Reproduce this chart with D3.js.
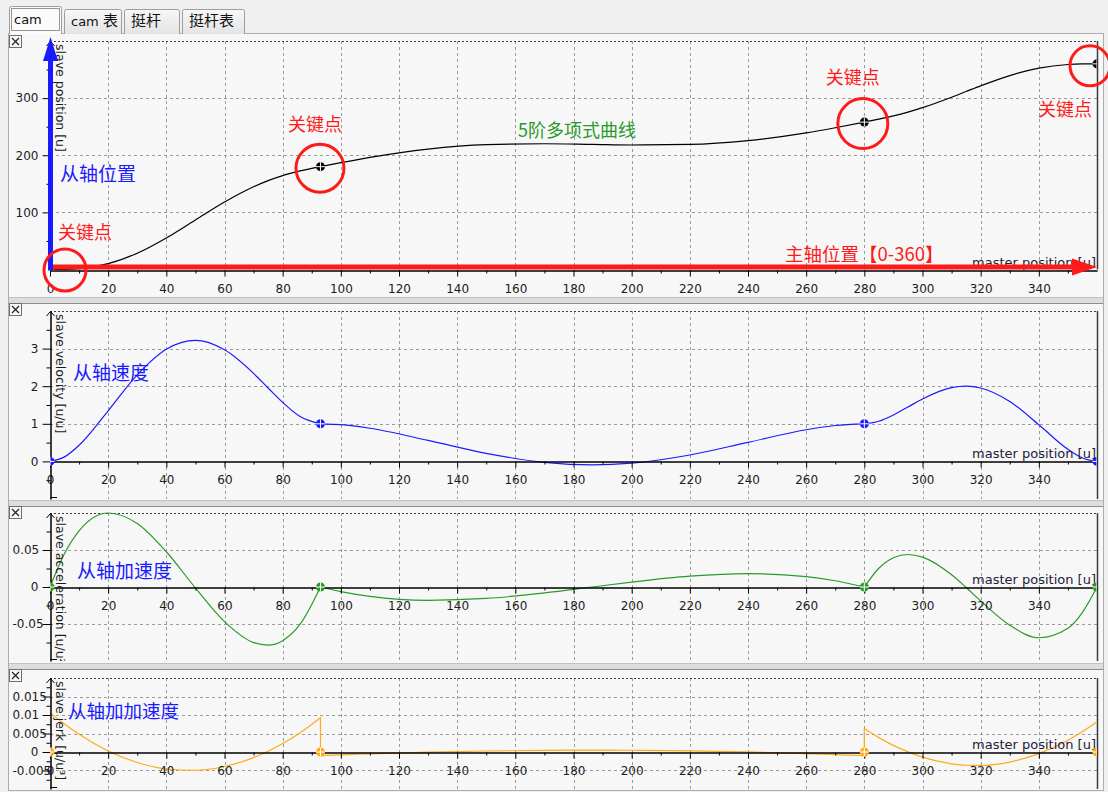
<!DOCTYPE html>
<html>
<head>
<meta charset="utf-8">
<script src="https://cdn.jsdelivr.net/npm/d3@7"></script>
<style>
  body { margin: 0; background: #f0f0f0; }
  svg { display: block; }
</style>
</head>
<body>
<svg id="chart" width="1108" height="792"></svg>
<script>
// ---- cam profile: key points of the master/slave motion ----
const keyX    = [0, 93, 280, 360];
const keyPos  = [0, 180, 258, 360];
const keyVel  = [0, 1, 1, 0];
const keyAcc  = [0, 0, 0, 0];
const keyJerk = [0, 0, 0, 0];

// segment 1: 0 .. 93
const seg1X   = [0, 5, 10, 20, 30, 40, 50, 60, 70, 75, 80, 86, 93];
const pos1    = [0, 0.21, 1.51, 10.19, 28.55, 55.29, 86.70, 118.03, 144.78, 155.53, 164.32, 172.53, 180];
const vel1    = [0, 0.120, 0.429, 1.346, 2.302, 2.983, 3.217, 2.967, 2.340, 1.951, 1.570, 1.193, 1];
const acc1    = [0, 0.0453, 0.0760, 0.1000, 0.0859, 0.0476, -0.0013, -0.0468, -0.0751, -0.0785, -0.0725, -0.0503, 0];
const jerk1   = [0.01065, 0.00754, 0.00477, 0.00027, -0.00285, -0.00459, -0.00495, -0.00392, -0.00151, 0.00021, 0.00228, 0.00521, 0.00926];

// segment 2: 93 .. 280
const seg2X   = [93, 100, 110, 130, 150, 170, 186.5, 200, 220, 240, 260, 270, 280];
const pos2    = [180, 186.95, 196.29, 210.86, 218.52, 220.16, 219.00, 217.95, 218.90, 225.54, 239.13, 248.16, 258];
const vel2    = [1, 0.977, 0.881, 0.560, 0.215, -0.026, -0.093, -0.048, 0.170, 0.506, 0.841, 0.955, 1];
const acc2    = [0, -0.00624, -0.01265, -0.01794, -0.01547, -0.00799, 0, 0.00661, 0.01460, 0.01800, 0.01404, 0.00845, 0];
const jerk2   = [-0.00100, -0.00078, -0.00050, -0.00005, 0.00027, 0.00045, 0.00050, 0.00047, 0.00031, 0.00001, -0.00043, -0.00070, -0.00100];

// segment 3: 280 .. 360
const seg3X   = [280, 285, 290, 295, 300, 310, 315, 320, 330, 340, 350, 355, 360];
const pos3    = [258, 263.12, 268.85, 275.55, 283.32, 301.64, 311.58, 321.50, 339.51, 352.49, 358.86, 359.84, 360];
const vel3    = [1, 1.069, 1.235, 1.447, 1.661, 1.961, 2.001, 1.953, 1.594, 0.974, 0.321, 0.091, 0];
const acc3    = [0, 0.0254, 0.0395, 0.0439, 0.0404, 0.0165, -0.0006, -0.0188, -0.0516, -0.0686, -0.0559, -0.0342, 0];
const jerk3   = [0.00633, 0.00389, 0.00179, 0.00004, -0.00138, -0.00319, -0.00358, -0.00363, -0.00272, -0.00044, 0.00320, 0.00553, 0.00820];

// ---- axis ticks ----
const xTickLabels = [0, 20, 40, 60, 80, 100, 120, 140, 160, 180, 200, 220, 240, 260, 280, 300, 320, 340];
const xMinorTicks = [10, 30, 50, 70, 90, 110, 130, 150, 170, 190, 210, 230, 250, 270, 290, 310, 330, 350];
const posTicks  = [100, 200, 300];
const posMinor  = [50, 150, 250, 350];
const velTicks  = [0, 1, 2, 3];
const velMinor  = [-0.5, 0.5, 1.5, 2.5, 3.5];
const accTicks  = [-0.05, 0, 0.05];
const accMinor  = [-0.075, -0.025, 0.025, 0.075];
const jerkTicks = [-0.005, 0, 0.005, 0.01, 0.015];
const jerkMinor = [-0.0075, -0.0025, 0.0025, 0.0075, 0.0125, 0.0175];

const tabLabels = ['cam', 'cam 表', '挺杆', '挺杆表'];

// ---- drawing ----
const W = 1108, H = 792;
const LATIN = '"DejaVu Sans", Verdana, sans-serif';
const MIXED = '"DejaVu Sans", "Noto Sans CJK SC", sans-serif';
const CJK = '"Noto Sans CJK SC", sans-serif';
const svg = d3.select('#chart');
const defs = svg.append('defs');

svg.append('rect').attr('width', W).attr('height', H).attr('fill', '#f0f0f0');

// tab strip
const tabGeom = [
  { x0: 9, x1: 62, top: 6 },
  { x0: 64, x1: 122, top: 9 },
  { x0: 124, x1: 180, top: 9 },
  { x0: 182, x1: 245, top: 9 }
];
const grad = defs.append('linearGradient').attr('id', 'tabGrad').attr('x1', 0).attr('x2', 0).attr('y1', 0).attr('y2', 1);
grad.append('stop').attr('offset', '0%').attr('stop-color', '#f7f7f7');
grad.append('stop').attr('offset', '100%').attr('stop-color', '#e4e4e4');

svg.append('rect').attr('x', 8.5).attr('y', 33.5).attr('width', 1095).attr('height', 757)
  .attr('fill', '#f7f7f7').attr('stroke', '#adadad');

tabLabels.forEach((lab, i) => {
  const t = tabGeom[i];
  const sel = i === 0;
  svg.append('path')
    .attr('d', `M${t.x0 + 0.5},34 V${t.top + 2.5} Q${t.x0 + 0.5},${t.top + 0.5} ${t.x0 + 2.5},${t.top + 0.5} H${t.x1 - 2.5} Q${t.x1 - 0.5},${t.top + 0.5} ${t.x1 - 0.5},${t.top + 2.5} V34`)
    .attr('fill', sel ? '#fbfbfb' : 'url(#tabGrad)')
    .attr('stroke', '#9e9e9e');
  const txt = svg.append('text')
    .attr('x', t.x0 + (sel ? 5 : 7))
    .attr('y', sel ? 24 : 26)
    .attr('font-family', MIXED)
    .attr('font-size', 13)
    .attr('fill', '#111');
  // Latin and CJK parts at their own sizes
  lab.split(/(\s+)/).forEach(part => {
    if (!part) return;
    const isCjk = /[\u4e00-\u9fff]/.test(part);
    txt.append('tspan').attr('font-size', isCjk ? 15 : 13).text(part);
  });
  if (sel) {
    svg.append('rect').attr('x', t.x0 + 2.5).attr('y', t.top + 2.5)
      .attr('width', t.x1 - t.x0 - 5).attr('height', 33 - t.top - 5)
      .attr('fill', 'none').attr('stroke', '#333').attr('stroke-dasharray', '1,1');
  }
});

// master axis scale shared by all panels
const x = d3.scaleLinear().domain([0, 360]).range([50, 1097]);

const panels = [
  {
    id: 'pos', segs: [[seg1X, pos1], [seg2X, pos2], [seg3X, pos3]], keys: keyPos,
    color: '#000', domain: [0, 400], top: 41, bottom: 269.5,
    ticks: posTicks, minor: posMinor, title: 'slave position [u]', foot: false, icon: 35
  },
  {
    id: 'vel', segs: [[seg1X, vel1], [seg2X, vel2], [seg3X, vel3]], keys: keyVel,
    color: '#1a1aff', domain: [-1, 4], top: 311, bottom: 499,
    ticks: velTicks, minor: velMinor, title: 'slave velocity [u/u]', foot: true, icon: 303
  },
  {
    id: 'acc', segs: [[seg1X, acc1], [seg2X, acc2], [seg3X, acc3]], keys: keyAcc,
    color: '#2a9a2a', domain: [-0.1, 0.1], top: 513, bottom: 661,
    ticks: accTicks, minor: accMinor, title: 'slave acceleration [u/u²]', foot: true, icon: 506
  },
  {
    id: 'jerk', segs: [[seg1X, jerk1], [seg2X, jerk2], [seg3X, jerk3]], keys: keyJerk,
    color: '#ffab1a', domain: [-0.01, 0.02], top: 678, bottom: 789,
    ticks: jerkTicks, minor: jerkMinor, title: 'slave jerk [u/u³]', foot: true, icon: 669
  }
];

// panel separators
[297, 500, 663].forEach(yy => {
  svg.append('rect').attr('x', 9).attr('y', yy).attr('width', 1094).attr('height', 6).attr('fill', '#dddddd');
  svg.append('line').attr('x1', 9).attr('x2', 1103).attr('y1', yy + 0.5).attr('y2', yy + 0.5).attr('stroke', '#c2c2c2');
  svg.append('line').attr('x1', 9).attr('x2', 1103).attr('y1', yy + 6.5).attr('y2', yy + 6.5).attr('stroke', '#8e8e8e');
});

const scales = {};

panels.forEach(p => {
  const y = d3.scaleLinear().domain(p.domain).range([p.bottom, p.top]);
  scales[p.id] = y;
  const x0 = x(0), x1 = x(360);
  const g = svg.append('g');

  defs.append('clipPath').attr('id', 'clip-' + p.id)
    .append('rect').attr('x', x0).attr('y', p.top).attr('width', x1 - x0).attr('height', p.bottom - p.top);

  // close box
  const ic = svg.append('g').attr('transform', `translate(9,${p.icon})`);
  ic.append('rect').attr('x', 0.5).attr('y', 0.5).attr('width', 12).attr('height', 12).attr('fill', '#f7f7f7').attr('stroke', '#6e6e6e');
  ic.append('path').attr('d', 'M3,3 L10,10 M10,3 L3,10').attr('stroke', '#222').attr('stroke-width', 1.2);

  // grid
  g.append('g').selectAll('line').data(xTickLabels.filter(v => v > 0)).join('line')
    .attr('x1', d => Math.round(x(d)) + 0.5).attr('x2', d => Math.round(x(d)) + 0.5)
    .attr('y1', p.top).attr('y2', p.bottom)
    .attr('stroke', '#9a9a9a').attr('stroke-dasharray', '3,3');
  g.append('g').selectAll('line').data(p.ticks.filter(v => v !== 0)).join('line')
    .attr('x1', x0).attr('x2', x1)
    .attr('y1', d => Math.round(y(d)) + 0.5).attr('y2', d => Math.round(y(d)) + 0.5)
    .attr('stroke', '#9a9a9a').attr('stroke-dasharray', '3,3');

  // frame: dotted top, solid right
  g.append('line').attr('x1', x0).attr('x2', x1 + 1).attr('y1', p.top + 0.5).attr('y2', p.top + 0.5)
    .attr('stroke', '#3c3c3c').attr('stroke-dasharray', '2,2');
  g.append('line').attr('x1', x1 + 0.5).attr('x2', x1 + 0.5).attr('y1', p.top).attr('y2', p.bottom)
    .attr('stroke', '#3a3a3a').attr('stroke-width', 1.5);

  // curve: segments joined at the key points
  const line = d3.line().x(d => x(d[0])).y(d => y(d[1])).curve(d3.curveMonotoneX);
  const pathD = p.segs.map((s, i) => {
    const str = line(s[0].map((xv, k) => [xv, s[1][k]]));
    return i === 0 ? str : 'L' + str.slice(1);
  }).join('');
  g.append('path').attr('d', pathD).attr('fill', 'none')
    .attr('stroke', p.color).attr('stroke-width', 1.2);

  // master axis at slave = 0
  const y0 = Math.round(y(0)) + 0.5;
  const xAxis = g.append('g').attr('transform', `translate(0,${y0})`)
    .call(d3.axisBottom(x).tickValues(xTickLabels).tickSize(6).tickSizeOuter(0).tickPadding(7.5).tickFormat(d3.format('d')));
  g.append('g').attr('transform', `translate(0,${y0})`)
    .call(d3.axisBottom(x).tickValues(xMinorTicks).tickSize(3).tickSizeOuter(0).tickFormat(''));
  g.selectAll('.domain, .tick line').attr('stroke', '#000');
  xAxis.selectAll('text').attr('font-family', LATIN).attr('font-size', 12).attr('fill', '#1c1c1c');

  g.append('text').attr('x', 1096).attr('y', y0 - 4).attr('text-anchor', 'end')
    .attr('font-family', LATIN).attr('font-size', 13).attr('fill', '#241a3a')
    .text('master position [u]');

  // slave axis
  const yAxis = g.append('g').attr('transform', `translate(${x0 + 0.5},0)`)
    .call(d3.axisLeft(y).tickValues(p.ticks).tickSize(8).tickSizeOuter(0).tickPadding(4).tickFormat(d => String(d)));
  g.append('g').attr('transform', `translate(${x0 + 0.5},0)`)
    .call(d3.axisLeft(y).tickValues(p.minor).tickSize(4).tickSizeOuter(0).tickFormat(''));
  g.selectAll('.domain, .tick line').attr('stroke', '#000');
  yAxis.selectAll('text').attr('font-family', LATIN).attr('font-size', 12).attr('fill', '#1c1c1c')
    .each(function () {
      // long labels are pushed right so they start at the panel margin
      const len = this.getComputedTextLength();
      d3.select(this).attr('x', Math.max(-12, len - 38));
    });
  // axis arrow and foot
  g.append('path').attr('d', `M${x0 - 3.5},${p.top + 5} L${x0 + 0.5},${p.top + 0.5} L${x0 + 4.5},${p.top + 5}`)
    .attr('fill', 'none').attr('stroke', '#000');
  if (p.foot) {
    g.append('line').attr('x1', x0).attr('x2', x0 + 7).attr('y1', p.bottom - 1.5).attr('y2', p.bottom - 1.5).attr('stroke', '#000');
  }

  // slave axis title
  g.append('g').attr('clip-path', `url(#clip-${p.id})`)
    .append('text')
    .attr('transform', `translate(56,${p.top + 3}) rotate(90)`)
    .attr('font-family', LATIN).attr('font-size', 12.5).attr('fill', '#1c1c1c')
    .text(p.title);

  // key point markers
  const mk = g.append('g').attr('clip-path', `url(#clip-${p.id})`)
    .selectAll('g').data(keyX.map((kx, i) => [kx, p.keys[i]])).join('g')
    .attr('transform', d => `translate(${x(d[0])},${y(d[1])})`);
  mk.append('circle').attr('r', 4.5).attr('fill', p.color);
  mk.append('path').attr('d', 'M-4.5,0 H4.5 M0,-4.5 V4.5').attr('stroke', '#fff').attr('stroke-width', 1);
});

// ---- annotations ----
const yPos = scales.pos;
const RED = '#ff1a1a';
const BLUE = '#1a1aff';

// master axis arrow
const axY = yPos(0) - 2.5;
svg.append('line').attr('x1', 48).attr('x2', x(360) - 24).attr('y1', axY).attr('y2', axY)
  .attr('stroke', RED).attr('stroke-width', 5);
svg.append('path').attr('d', `M${x(360) - 25},${axY - 8.5} L${x(360)},${axY} L${x(360) - 25},${axY + 8.5} Z`).attr('fill', RED);

// slave axis arrow
svg.append('line').attr('x1', x(0) + 0.5).attr('x2', x(0) + 0.5).attr('y1', yPos(0) + 1).attr('y2', yPos(400) + 18)
  .attr('stroke', BLUE).attr('stroke-width', 5);
svg.append('path').attr('d', `M${x(0) - 7},${yPos(400) + 20} L${x(0) + 0.5},${yPos(400) - 4} L${x(0) + 8},${yPos(400) + 20} Z`).attr('fill', BLUE);

// key point rings and labels
const rings = [
  { dx: 15, dy: 0.5, r: 21, lx: 8, ly: -31 },
  { dx: -0.5, dy: 1.5, r: 24, lx: -32.5, ly: -36 },
  { dx: -1.5, dy: 1.5, r: 25, lx: -38.5, ly: -38 },
  { dx: -7, dy: 2, r: 20, lx: -59, ly: 52 }
];
keyX.forEach((kx, i) => {
  const cx = x(kx), cy = yPos(keyPos[i]);
  const rg = rings[i];
  svg.append('circle').attr('cx', cx + rg.dx).attr('cy', cy + rg.dy).attr('r', rg.r)
    .attr('fill', 'none').attr('stroke', RED).attr('stroke-width', 3);
  svg.append('text').attr('x', cx + rg.lx).attr('y', cy + rg.ly)
    .attr('font-family', CJK).attr('font-size', 18).attr('fill', RED).text('关键点');
});

svg.append('text').attr('x', 60).attr('y', 181).attr('font-family', CJK).attr('font-size', 19).attr('fill', BLUE).text('从轴位置');
svg.append('text').attr('x', 518).attr('y', 137).attr('font-family', CJK).attr('font-size', 18).attr('fill', '#2a9a2a').text('5阶多项式曲线');
svg.append('text').attr('x', 785).attr('y', 261).attr('font-family', CJK).attr('font-size', 18.5).attr('fill', RED).text('主轴位置【0-360】');

svg.append('text').attr('x', 73).attr('y', 380).attr('font-family', CJK).attr('font-size', 19).attr('fill', BLUE).text('从轴速度');
svg.append('text').attr('x', 77).attr('y', 578).attr('font-family', CJK).attr('font-size', 19).attr('fill', BLUE).text('从轴加速度');
svg.append('text').attr('x', 68).attr('y', 718).attr('font-family', CJK).attr('font-size', 18.5).attr('fill', BLUE).text('从轴加加速度');
</script>
</body>
</html>
